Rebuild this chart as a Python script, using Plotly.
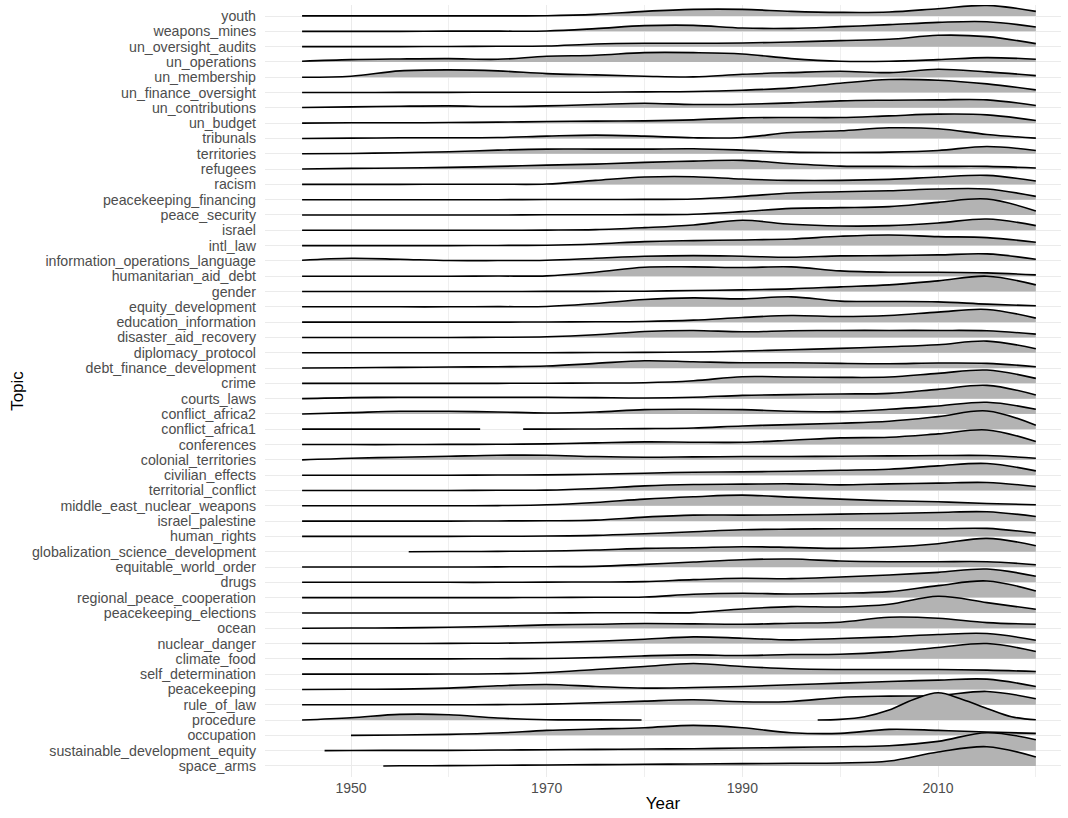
import plotly.graph_objects as go

# ---------------- data (heights, in 1/46 of a row) -------------
YEARS = [1945, 1950, 1955, 1960, 1965, 1970, 1975, 1980,
         1985, 1990, 1995, 2000, 2005, 2010, 2015, 2020]

TOPICS = ["youth", "weapons_mines", "un_oversight_audits", "un_operations", "un_membership",
          "un_finance_oversight", "un_contributions", "un_budget", "tribunals", "territories",
          "refugees", "racism", "peacekeeping_financing", "peace_security", "israel", "intl_law",
          "information_operations_language", "humanitarian_aid_debt", "gender",
          "equity_development", "education_information", "disaster_aid_recovery",
          "diplomacy_protocol", "debt_finance_development", "crime", "courts_laws",
          "conflict_africa2", "conflict_africa1", "conferences", "colonial_territories",
          "civilian_effects", "territorial_conflict", "middle_east_nuclear_weapons",
          "israel_palestine", "human_rights", "globalization_science_development",
          "equitable_world_order", "drugs", "regional_peace_cooperation",
          "peacekeeping_elections", "ocean", "nuclear_danger", "climate_food",
          "self_determination", "peacekeeping", "rule_of_law", "procedure", "occupation",
          "sustainable_development_equity", "space_arms"]

youth = [0.5, 0.5, 0.5, 0.5, 0.5, 1, 5, 14, 20, 20, 14, 11, 12, 22, 32, 14]
weapons_mines = [0, 0, 0, 0.5, 0.5, 1, 8, 17, 18, 10, 9, 14, 20, 27, 29, 13]
un_oversight_audits = [0, 0, 0, 0.5, 1, 2, 8, 10, 10, 11, 14, 18, 22, 34, 30, 9]
un_operations = [2, 7, 9, 10, 8, 17, 20, 28, 28, 24, 10, 2, 2, 7, 13, 8]
un_membership = [0, 3, 19, 22, 19, 11, 7, 3, 1, 9, 14, 18, 14, 24, 16, 5]
un_finance_oversight = [0, 0, 0.5, 0.5, 1, 1, 1, 2, 3, 7, 14, 28, 39, 37, 26, 8]
un_contributions = [1, 3, 5, 6, 4, 6, 10, 14, 10, 11, 15, 21, 23, 24, 24, 7]
un_budget = [0, 1, 1, 2, 3, 5, 6, 7, 10, 16, 17, 17, 22, 27, 25, 8]
tribunals = [0, 1, 2, 2, 3, 7, 10, 7, 2, 3, 18, 23, 32, 29, 12, 1]
territories = [0, 1, 3, 6, 11, 14, 14, 14, 15, 11, 5, 4, 5, 10, 22, 10]
refugees = [0, 2, 3, 5, 8, 12, 15, 20, 24, 26, 16, 9, 8, 8, 8, 3]
racism = [0, 0, 0, 0.5, 0.5, 1, 12, 22, 23, 16, 12, 12, 15, 22, 27, 10]
peacekeeping_financing = [0, 0, 0, 0, 0, 0.5, 0.5, 1, 2, 10, 20, 24, 27, 32, 32, 10]
peace_security = [0, 0, 0, 0, 0, 0.5, 0.5, 1, 2, 10, 20, 22, 25, 38, 48, 12]
israel = [0, 0, 0, 0, 0, 0.5, 2, 8, 16, 30, 18, 13, 14, 22, 34, 14]
intl_law = [0, 0, 0, 0, 0.5, 1, 5, 12, 15, 17, 20, 28, 32, 27, 24, 10]
information_operations_language = [2, 8, 5, 1, 1, 2, 8, 14, 16, 14, 11, 15, 16, 18, 21, 5]
humanitarian_aid_debt = [0, 0, 0, 0, 0.5, 1, 12, 27, 28, 26, 28, 16, 12, 12, 10, 4]
gender = [0, 0, 0, 0, 0, 0.5, 0.5, 1, 3, 5, 8, 14, 20, 32, 46, 20]
equity_development = [0, 0, 0, 0, 0.5, 1, 10, 22, 27, 24, 30, 17, 16, 15, 8, 3]
education_information = [0, 0, 0, 0, 0, 0.5, 1, 2, 6, 14, 20, 17, 20, 30, 38, 12]
disaster_aid_recovery = [0, 0, 0, 0, 0.5, 2, 8, 18, 21, 17, 20, 21, 21, 21, 20, 10]
diplomacy_protocol = [0, 0, 0, 0, 0, 0, 0.5, 1, 2, 5, 9, 13, 18, 24, 35, 12]
debt_finance_development = [0, 1, 2, 3, 4, 6, 14, 22, 19, 16, 16, 14, 13, 15, 14, 4]
crime = [0, 0, 0, 0, 0, 0.5, 1, 2, 8, 20, 19, 18, 19, 30, 40, 15]
courts_laws = [0, 3, 4, 4, 4, 4, 3, 2, 4, 10, 12, 14, 16, 28, 40, 11]
conflict_africa2 = [0, 4, 8, 8, 6, 3, 6, 13, 14, 13, 8, 7, 14, 24, 35, 14]
conflict_africa1_years_a = [1945, 1950, 1955, 1960, 1963.2]
conflict_africa1_a = [0.5, 0.5, 0.5, 0.5, 0.5]
conflict_africa1_years_b = [1967.6, 1970, 1975, 1980, 1985, 1990, 1995, 2000, 2005, 2010, 2015, 2020]
conflict_africa1_b = [0.5, 0.5, 1, 2, 4, 10, 14, 18, 24, 38, 55, 12]
conferences = [0, 0, 0, 0.5, 1, 2, 5, 8, 7, 7, 13, 20, 22, 32, 44, 9]
colonial_territories = [0, 5, 8, 11, 14, 14, 10, 8, 9, 10, 10, 11, 12, 13, 13, 5]
civilian_effects = [0, 0, 0, 0, 0.5, 1, 3, 6, 9, 10, 12, 15, 18, 28, 35, 13]
territorial_conflict = [0, 0, 0, 0, 0.5, 1, 6, 14, 18, 19, 20, 17, 20, 22, 24, 12]
middle_east_nuclear_weapons = [0, 0, 0, 0, 0.5, 3, 10, 20, 27, 32, 26, 20, 15, 12, 7, 3]
israel_palestine = [0, 0, 0, 0, 0.5, 1, 3, 12, 18, 18, 19, 21, 23, 26, 28, 14]
human_rights = [0, 0, 0, 0, 0.5, 1, 3, 8, 14, 20, 22, 23, 23, 23, 24, 10]
globalization_years = [1955.9, 1960, 1965, 1970, 1975, 1980, 1985, 1990, 1995, 2000, 2005, 2010, 2015, 2020]
globalization_science_development = [0, 0.5, 1, 2, 5, 10, 12, 15, 13, 10, 14, 24, 40, 18]
equitable_world_order = [0, 0, 0, 0, 0.5, 1, 2, 8, 15, 22, 24, 18, 16, 16, 16, 7]
drugs = [0, 0, 0, 0, 0, 0.5, 1, 2, 8, 12, 11, 16, 22, 30, 40, 18]
regional_peace_cooperation = [0, 0, 0, 0, 0, 0.5, 1, 2, 10, 13, 11, 13, 18, 36, 50, 20]
peacekeeping_elections = [0, 0, 0, 0, 0, 0, 0.5, 0.5, 1, 12, 19, 18, 26, 50, 31, 11]
ocean = [0, 0.5, 1, 3, 6, 10, 12, 14, 13, 12, 15, 18, 33, 30, 17, 12]
nuclear_danger = [0, 0, 0, 0.5, 1, 3, 7, 13, 20, 16, 11, 15, 20, 27, 30, 10]
climate_food = [0, 0, 0, 0, 0.5, 1, 4, 9, 12, 10, 13, 14, 21, 34, 46, 22]
self_determination = [0, 0, 0, 0.5, 1, 5, 14, 23, 32, 23, 16, 14, 14, 14, 12, 8]
peacekeeping = [0, 0.5, 1, 4, 11, 15, 9, 4, 6, 9, 14, 19, 24, 28, 31, 9]
rule_of_law = [0, 0, 0, 0, 0.5, 2, 6, 11, 15, 9, 10, 22, 26, 28, 40, 18]
procedure_years_a = [1945, 1950, 1955, 1960, 1965, 1970, 1975, 1979.7]
procedure_a = [0, 7, 17, 16, 6, 1, 0.5, 0]
procedure_years_b = [1997.7, 2000, 2002.5, 2005, 2007.5, 2010, 2012.5, 2015, 2017.5, 2020]
procedure_b = [0, 2, 10, 30, 62, 82, 62, 35, 10, 1]
occupation_years = [1950, 1955, 1960, 1965, 1970, 1975, 1980, 1985, 1990, 1995, 2000, 2005, 2010, 2015, 2020]
occupation = [0, 1, 3, 7, 15, 19, 23, 30, 23, 8, 6, 18, 15, 10, 6]
sde_years = [1947.3, 1950, 1955, 1960, 1965, 1970, 1975, 1980, 1985, 1990, 1995, 2000, 2005, 2010, 2015, 2020]
sustainable_development_equity = [0, 0.5, 1, 1, 2, 3, 4, 5, 6, 8, 10, 12, 15, 28, 54, 33]
space_arms_years = [1953.3, 1955, 1960, 1965, 1970, 1975, 1980, 1985, 1990, 1995, 2000, 2005, 2010, 2015, 2020]
space_arms = [0, 0.5, 1, 2, 3, 4, 5, 6, 7, 8, 9, 15, 42, 58, 27]

SCALE = 1.0 / 46.0  # reading units -> row spacing

SEGMENTS = {
    "conflict_africa1": [(conflict_africa1_years_a, conflict_africa1_a),
                         (conflict_africa1_years_b, conflict_africa1_b)],
    "globalization_science_development": [(globalization_years, globalization_science_development)],
    "procedure": [(procedure_years_a, procedure_a), (procedure_years_b, procedure_b)],
    "occupation": [(occupation_years, occupation)],
    "sustainable_development_equity": [(sde_years, sustainable_development_equity)],
    "space_arms": [(space_arms_years, space_arms)],
}
for t in TOPICS:
    if t not in SEGMENTS:
        SEGMENTS[t] = [(YEARS, globals()[t])]

# ---------------- figure -------------
fig = go.Figure()
n = len(TOPICS)
for i, name in enumerate(TOPICS):          # top ridge first, lower ridges drawn on top
    base = n - 1 - i
    for xs, hs in SEGMENTS[name]:
        fig.add_trace(go.Scatter(x=xs, y=[base] * len(xs), mode="lines",
                                 line=dict(width=0, color="rgba(0,0,0,0)"),
                                 hoverinfo="skip", showlegend=False))
        fig.add_trace(go.Scatter(x=xs, y=[base + h * SCALE for h in hs], mode="lines",
                                 line=dict(color="black", width=1.6, shape="spline", smoothing=1.0),
                                 fill="tonexty", fillcolor="#B3B3B3",
                                 name=name, showlegend=False))

FONT = "Liberation Sans, Arial, sans-serif"
fig.update_layout(
    width=1068, height=818,
    margin=dict(l=265, r=7, t=5, b=41),
    plot_bgcolor="white", paper_bgcolor="white",
    font=dict(family=FONT, color="#4D4D4D"),
    xaxis=dict(
        range=[1941.21, 2022.57],
        automargin=False,
        tickvals=[1950, 1970, 1990, 2010],
        ticktext=["1950", "1970", "1990", "2010"],
        showgrid=True, gridcolor="#EBEBEB", gridwidth=1.1,
        minor=dict(tickvals=[1960, 1980, 2000, 2020], showgrid=True,
                   gridcolor="#EFEFEF", gridwidth=0.6),
        zeroline=False, showline=False, ticks="",
        ticklabelstandoff=1,
        tickfont=dict(size=14, color="#4D4D4D", family=FONT),
        title=dict(text="Year", font=dict(size=17, color="black", family=FONT), standoff=2),
    ),
    yaxis=dict(
        range=[-0.72, 49.72],
        automargin=False,
        tickvals=list(range(n)),
        ticktext=list(reversed(TOPICS)),
        showgrid=True, gridcolor="#EBEBEB", gridwidth=1.1,
        zeroline=False, showline=False, ticks="",
        ticklabelstandoff=8,
        tickfont=dict(size=14.2, color="#4D4D4D", family=FONT),
        title=dict(text="Topic", font=dict(size=17, color="black", family=FONT), standoff=4),
    ),
)

fig.write_html("out.html",
               config={"displayModeBar": False},
               post_script="document.body.style.margin='0px';document.body.style.overflow='hidden';")
